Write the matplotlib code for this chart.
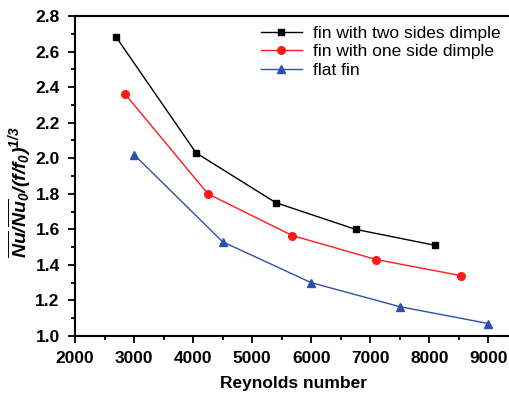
import matplotlib
matplotlib.use("Agg")
import matplotlib.pyplot as plt
from matplotlib.ticker import MultipleLocator

plt.rcParams["font.family"] = ["Liberation Sans", "DejaVu Sans"]
plt.rcParams["mathtext.fontset"] = "custom"
plt.rcParams["mathtext.it"] = "Liberation Sans:italic:bold"
plt.rcParams["mathtext.rm"] = "Liberation Sans:italic:bold"
plt.rcParams["mathtext.bf"] = "Liberation Sans:bold"

# data
re_two = [2700, 4050, 5400, 6750, 8100]
nu_two = [2.68, 2.03, 1.75, 1.60, 1.51]
re_one = [2850, 4250, 5680, 7100, 8530]
nu_one = [2.36, 1.80, 1.565, 1.43, 1.34]
re_flat = [3000, 4500, 6000, 7500, 9000]
nu_flat = [2.02, 1.53, 1.30, 1.165, 1.07]

fig = plt.figure(figsize=(5.10, 3.93), dpi=100)
ax = fig.add_axes([75 / 510, 1 - 336 / 393, 437 / 510, 320 / 393])

ax.plot(re_two, nu_two, color="black", marker="s", ms=5, lw=1, label="fin with two sides dimple")
ax.plot(re_one, nu_one, color="#ff1a1a", marker="o", ms=5.5, lw=1, label="fin with one side dimple")
ax.plot(re_flat, nu_flat, color="#2f4fb0", marker="^", ms=6, lw=1, label="flat fin")

ax.set_xlim(2000, 9400)
ax.set_ylim(1.0, 2.8)
ax.xaxis.set_major_locator(MultipleLocator(1000))
ax.xaxis.set_minor_locator(MultipleLocator(500))
ax.yaxis.set_major_locator(MultipleLocator(0.2))
ax.yaxis.set_minor_locator(MultipleLocator(0.1))
ax.tick_params(which="both", direction="out", width=1.3, labelsize=12.5)
ax.tick_params(which="major", length=5, pad=6)
ax.tick_params(which="minor", length=3)
for lab in ax.get_xticklabels() + ax.get_yticklabels():
    lab.set_fontweight("bold")
for s in ax.spines.values():
    s.set_linewidth(1.5)

ax.set_xlabel("Reynolds number", fontsize=12.5, fontweight="bold", labelpad=7)
ax.set_ylabel(r"$\overline{Nu}/\overline{Nu}_0/(f/f_0)^{1/3}$", fontsize=14)
ax.yaxis.set_label_coords(-0.095, 0.45)

ax.legend(loc="upper right", bbox_to_anchor=(0.995, 1.0), frameon=False, fontsize=12.5,
          handlelength=2.4, handletextpad=0.6, labelspacing=0.2, borderaxespad=0.15)

fig.savefig("out.png", dpi=100)
